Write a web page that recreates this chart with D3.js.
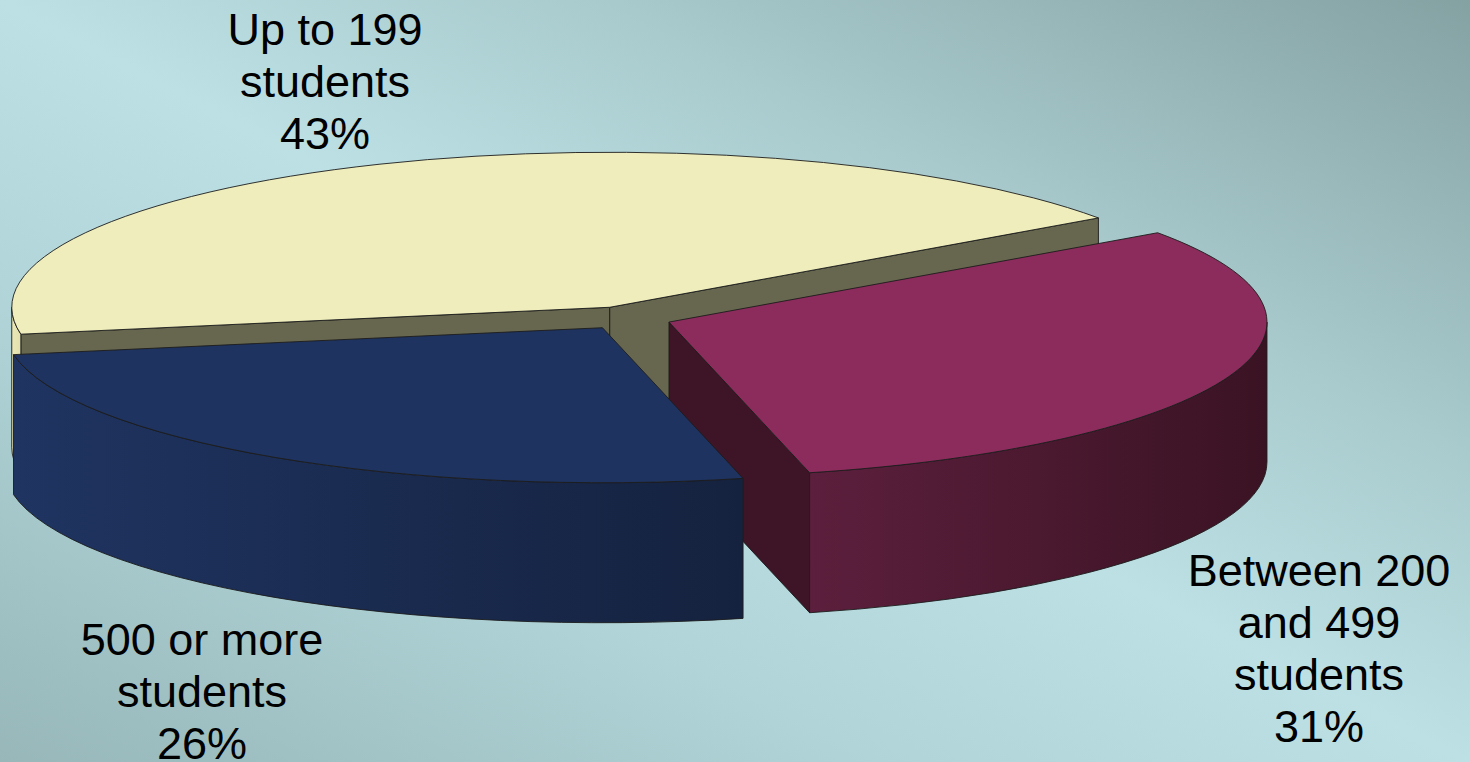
<!DOCTYPE html>
<html><head><meta charset="utf-8">
<script src="https://cdn.jsdelivr.net/npm/d3@7"></script>
<style>html,body{margin:0;padding:0;overflow:hidden;background:#BCE0E4}</style>
</head><body>
<svg id="chart" width="1470" height="762"></svg>
<script>
// School size distribution
const categories = ["Up to 199 students", "Between 200 and 499 students", "500 or more students"];
const labelLines = [["Up to 199", "students"], ["Between 200", "and 499", "students"], ["500 or more", "students"]];
const values = [43, 31, 26];

const W = 1470, H = 762;
const svg = d3.select("#chart");
const defs = svg.append("defs");

// diagonal background wash
const bg = defs.append("linearGradient").attr("id", "bg")
  .attr("x1", 0).attr("y1", 1).attr("x2", 1).attr("y2", 0);
[[0, "#97B7B9"], [0.3, "#B0D4D8"], [0.5, "#BCE0E4"], [0.7, "#A9CBCE"], [1, "#85A2A3"]]
  .forEach(([o, c]) => bg.append("stop").attr("offset", o).attr("stop-color", c));
svg.append("rect").attr("width", W).attr("height", H).attr("fill", "url(#bg)");

const palette = [
  {top: "#EEEDBB", face: "#67674F", wall: ["#E9E8B6", "#E2E1AE"]},
  {top: "#8C2C5C", face: "#3D1527", wall: ["#5C1F3D", "#3A1323"]},
  {top: "#1E335F", face: "#14213C", wall: ["#1F3461", "#15223F"]}
];

// projected disc geometry
const cx = 627, cy = 318, rx = 598, ry = 155, depth = 140, explode = 0.075;
const start = 170 * Math.PI / 180;
const pie = d3.pie().sort(null).startAngle(start).endAngle(start + 2 * Math.PI);
const arcs = pie(values).map((d, i) => {
  const mid = (d.startAngle + d.endAngle) / 2;
  return Object.assign(d, {
    i, mid,
    c: [cx + explode * rx * Math.cos(mid), cy + explode * ry * Math.sin(mid)]
  });
});

const stroke = "#1c1c1c", sw = 0.9;
const fmt = p => `${p[0].toFixed(2)},${p[1].toFixed(2)}`;

function frontParts(a0, a1) {
  const out = [];
  for (let k = -2; k <= 2; k++) {
    const lo = k * 2 * Math.PI, hi = lo + Math.PI;
    const s = Math.max(a0, lo), e = Math.min(a1, hi);
    if (e > s) out.push([s, e]);
  }
  return out;
}

const g = svg.append("g");
// back-to-front painting order
arcs.slice().sort((a, b) => Math.sin(a.mid) - Math.sin(b.mid)).forEach(d => {
  const col = palette[d.i];
  const P = t => [d.c[0] + rx * Math.cos(t), d.c[1] + ry * Math.sin(t)];
  const down = p => [p[0], p[1] + depth];
  const a0 = d.startAngle, a1 = d.endAngle;

  // radial side faces that turn toward the viewer
  const faces = [];
  if (Math.cos(a0) < 0) faces.push(a0);
  if (Math.cos(a1) > 0) faces.push(a1);
  faces.forEach(t => {
    const p = P(t);
    g.append("path")
      .attr("d", `M${fmt(d.c)}L${fmt(p)}L${fmt(down(p))}L${fmt(down(d.c))}Z`)
      .attr("fill", col.face).attr("stroke", stroke).attr("stroke-width", sw)
      .attr("stroke-linejoin", "round");
  });

  // outer rim on the front half
  frontParts(a0, a1).forEach(([s, e], k) => {
    const p0 = P(s), p1 = P(e);
    const xs = d3.range(0, 1.0001, 0.02).map(f => P(s + (e - s) * f)[0]);
    const gid = `wall${d.i}_${k}`;
    const lg = defs.append("linearGradient").attr("id", gid)
      .attr("gradientUnits", "userSpaceOnUse")
      .attr("x1", d3.min(xs)).attr("x2", d3.max(xs)).attr("y1", 0).attr("y2", 0);
    lg.append("stop").attr("offset", 0).attr("stop-color", col.wall[0]);
    lg.append("stop").attr("offset", 1).attr("stop-color", col.wall[1]);
    const large = (e - s) > Math.PI ? 1 : 0;
    g.append("path")
      .attr("d", `M${fmt(p0)}A${rx},${ry} 0 ${large} 1 ${fmt(p1)}L${fmt(down(p1))}` +
                 `A${rx},${ry} 0 ${large} 0 ${fmt(down(p0))}Z`)
      .attr("fill", `url(#${gid})`).attr("stroke", stroke).attr("stroke-width", sw)
      .attr("stroke-linejoin", "round");
  });

  // top surface
  const large = (a1 - a0) > Math.PI ? 1 : 0;
  g.append("path")
    .attr("d", `M${fmt(d.c)}L${fmt(P(a0))}A${rx},${ry} 0 ${large} 1 ${fmt(P(a1))}Z`)
    .attr("fill", col.top).attr("stroke", stroke).attr("stroke-width", sw)
    .attr("stroke-linejoin", "round");
});

// data labels
const labelPos = [[325, 45], [1319, 586], [202, 655]];
const lineGap = 52;
const labels = svg.append("g")
  .attr("font-family", "'Liberation Sans', Arial, Helvetica, sans-serif")
  .attr("font-size", 45).attr("fill", "#000").attr("text-anchor", "middle");
values.forEach((v, i) => {
  const lines = labelLines[i].concat([`${v}%`]);
  const t = labels.append("text").attr("x", labelPos[i][0]).attr("y", labelPos[i][1]);
  lines.forEach((ln, j) => t.append("tspan").attr("x", labelPos[i][0])
    .attr("dy", j === 0 ? 0 : lineGap).text(ln));
});
</script>
</body></html>
